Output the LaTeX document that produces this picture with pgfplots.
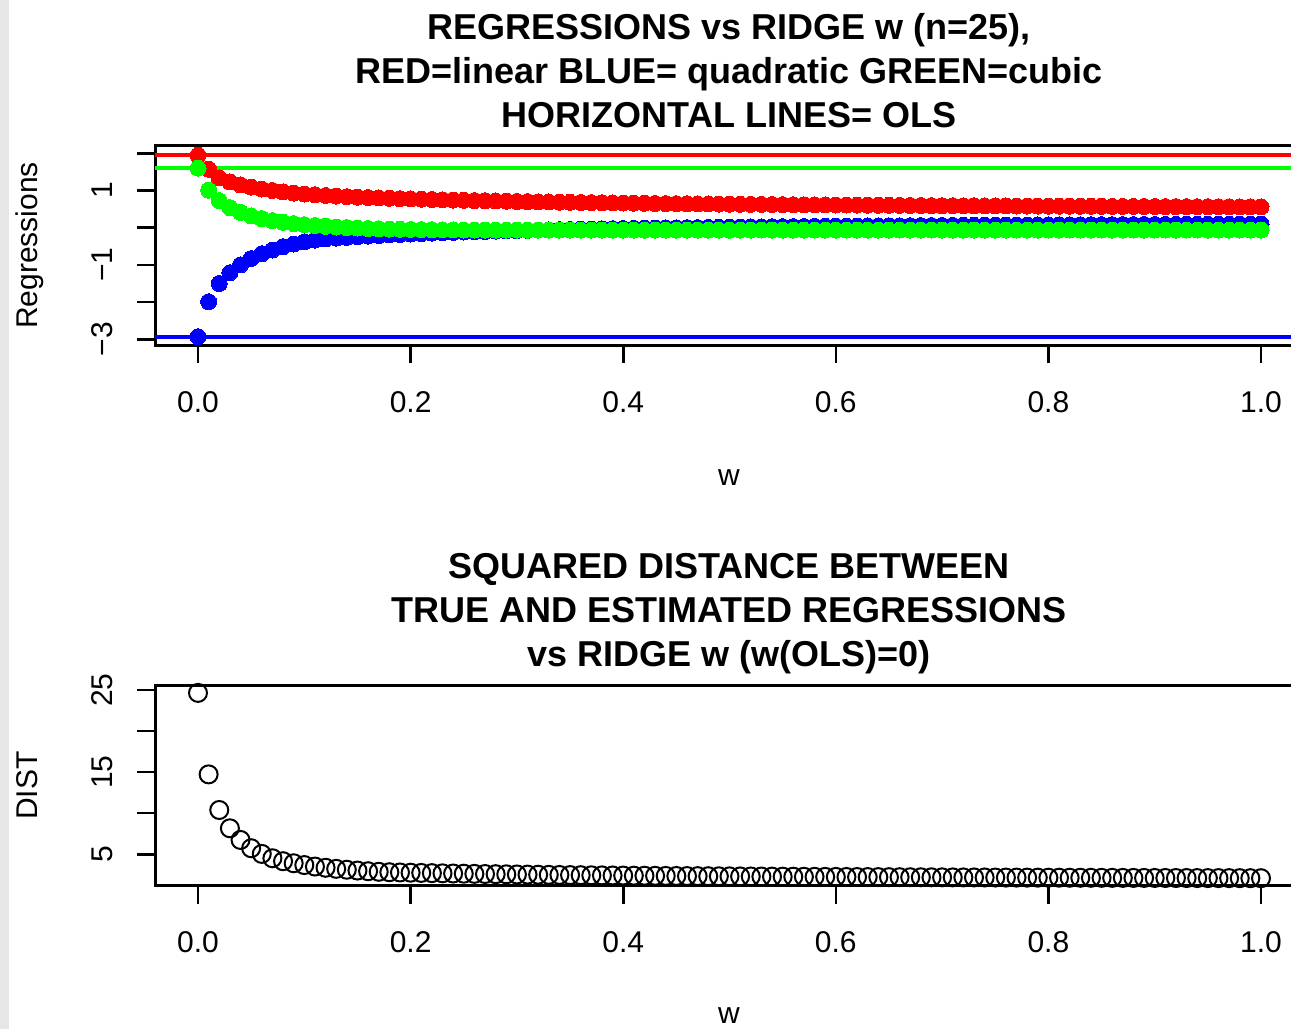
\documentclass[border=0pt]{standalone}
\usepackage{pgfplots}
\usepackage{pgfplotstable}
\pgfplotsset{compat=1.18}
\usepackage{fontspec}
\setmainfont{Liberation Sans}

\definecolor{Rred}{RGB}{255,0,0}
\definecolor{Rgreen}{RGB}{0,255,0}
\definecolor{Rblue}{RGB}{0,0,255}
\definecolor{stripgray}{RGB}{230,230,230}

% ridge path: w, linear (r), quadratic (b), cubic (g) coefficients, squared distance (d)
\pgfplotstableread{
w r b g d
0.00 1.950 -2.930 1.600 24.66
0.01 1.570 -1.990 1.010 14.73
0.02 1.340 -1.500 0.730 10.39
0.03 1.230 -1.210 0.540 8.16
0.04 1.150 -1.000 0.410 6.74
0.05 1.090 -0.830 0.315 5.73
0.06 1.040 -0.700 0.245 5.04
0.07 1.000 -0.600 0.190 4.51
0.08 0.960 -0.510 0.145 4.15
0.09 0.930 -0.440 0.110 3.90
0.10 0.905 -0.380 0.080 3.68
0.11 0.885 -0.335 0.057 3.50
0.12 0.866 -0.303 0.037 3.35
0.13 0.850 -0.281 0.018 3.22
0.14 0.835 -0.261 0.003 3.11
0.15 0.822 -0.243 -0.010 3.01
0.16 0.810 -0.226 -0.021 2.93
0.17 0.799 -0.210 -0.030 2.86
0.18 0.790 -0.196 -0.037 2.808
0.19 0.782 -0.182 -0.043 2.778
0.20 0.775 -0.170 -0.048 2.750
0.21 0.766 -0.158 -0.052 2.723
0.22 0.758 -0.147 -0.055 2.698
0.23 0.751 -0.136 -0.058 2.674
0.24 0.743 -0.127 -0.060 2.651
0.25 0.736 -0.117 -0.062 2.630
0.26 0.730 -0.109 -0.063 2.609
0.27 0.724 -0.100 -0.064 2.589
0.28 0.718 -0.092 -0.065 2.571
0.29 0.712 -0.085 -0.065 2.553
0.30 0.706 -0.078 -0.065 2.536
0.31 0.701 -0.071 -0.065 2.520
0.32 0.696 -0.065 -0.065 2.504
0.33 0.691 -0.059 -0.065 2.489
0.34 0.687 -0.053 -0.065 2.475
0.35 0.682 -0.047 -0.065 2.461
0.36 0.678 -0.042 -0.065 2.448
0.37 0.674 -0.037 -0.065 2.435
0.38 0.670 -0.032 -0.065 2.423
0.39 0.666 -0.027 -0.065 2.411
0.40 0.663 -0.023 -0.065 2.400
0.41 0.659 -0.019 -0.065 2.389
0.42 0.656 -0.015 -0.065 2.378
0.43 0.652 -0.011 -0.065 2.368
0.44 0.649 -0.007 -0.065 2.358
0.45 0.646 -0.003 -0.065 2.349
0.46 0.643 0.001 -0.065 2.340
0.47 0.640 0.004 -0.065 2.331
0.48 0.638 0.007 -0.065 2.322
0.49 0.635 0.011 -0.065 2.314
0.50 0.632 0.014 -0.065 2.306
0.51 0.630 0.017 -0.064 2.298
0.52 0.627 0.020 -0.064 2.290
0.53 0.625 0.022 -0.064 2.283
0.54 0.623 0.025 -0.064 2.275
0.55 0.620 0.028 -0.064 2.268
0.56 0.618 0.030 -0.064 2.262
0.57 0.616 0.033 -0.064 2.255
0.58 0.614 0.035 -0.064 2.249
0.59 0.612 0.038 -0.064 2.242
0.60 0.610 0.040 -0.064 2.236
0.61 0.608 0.042 -0.064 2.230
0.62 0.606 0.044 -0.064 2.225
0.63 0.604 0.046 -0.064 2.219
0.64 0.603 0.048 -0.064 2.214
0.65 0.601 0.050 -0.064 2.208
0.66 0.599 0.052 -0.064 2.203
0.67 0.598 0.054 -0.064 2.198
0.68 0.596 0.056 -0.064 2.193
0.69 0.594 0.058 -0.064 2.188
0.70 0.593 0.060 -0.064 2.184
0.71 0.591 0.061 -0.064 2.179
0.72 0.590 0.063 -0.064 2.174
0.73 0.589 0.064 -0.064 2.170
0.74 0.587 0.066 -0.064 2.166
0.75 0.586 0.068 -0.064 2.161
0.76 0.585 0.069 -0.064 2.157
0.77 0.583 0.071 -0.064 2.153
0.78 0.582 0.072 -0.064 2.149
0.79 0.581 0.073 -0.064 2.146
0.80 0.580 0.075 -0.064 2.142
0.81 0.578 0.076 -0.063 2.138
0.82 0.577 0.077 -0.063 2.134
0.83 0.576 0.079 -0.063 2.131
0.84 0.575 0.080 -0.063 2.127
0.85 0.574 0.081 -0.063 2.124
0.86 0.573 0.082 -0.063 2.121
0.87 0.572 0.084 -0.063 2.117
0.88 0.571 0.085 -0.063 2.114
0.89 0.570 0.086 -0.063 2.111
0.90 0.569 0.087 -0.063 2.108
0.91 0.568 0.088 -0.063 2.105
0.92 0.567 0.089 -0.063 2.102
0.93 0.566 0.090 -0.063 2.099
0.94 0.565 0.091 -0.063 2.096
0.95 0.564 0.092 -0.063 2.093
0.96 0.563 0.093 -0.063 2.091
0.97 0.562 0.094 -0.063 2.088
0.98 0.561 0.095 -0.063 2.085
0.99 0.561 0.096 -0.063 2.083
1.00 0.560 0.097 -0.063 2.080
}\ridgepath

\pgfplotsset{
  rpanel/.style={
    scale only axis,
    width=574.02pt, height=100pt,
    anchor=south west,
    xmin=-0.04, xmax=1.04,
    axis line style={line width=1.3pt},
    every tick/.style={line width=1.3pt, black},
    tick align=outside,
    major tick length=9pt,
    tick pos=left,
    xtick={0,0.2,0.4,0.6,0.8,1},
    xticklabels={0.0,0.2,0.4,0.6,0.8,1.0},
    tick label style={font=\fontsize{15}{18}\selectfont},
    xticklabel style={anchor=center, yshift=-19.25pt},
    yticklabel style={anchor=center, xshift=-17.5pt, rotate=90},
    clip=false,
  },
}

\begin{document}
\begin{tikzpicture}
\useasboundingbox (0,0) rectangle (645.5pt,514.5pt);
\clip (0,0) rectangle (645.5pt,514.5pt);
\fill[stripgray] (0,0) rectangle (4.5pt,514.5pt);

% titles
\begin{scope}[every node/.style={font=\fontsize{18}{21.6}\selectfont\bfseries, anchor=base, inner sep=0pt}]
\node at (364.5pt,494.5pt) {REGRESSIONS vs RIDGE w (n=25),};
\node at (364.5pt,472.5pt) {RED=linear BLUE= quadratic GREEN=cubic};
\node at (364.5pt,450.5pt) {HORIZONTAL LINES= OLS};
\node at (364.5pt,225pt) {SQUARED DISTANCE BETWEEN};
\node at (364.5pt,203pt) {TRUE AND ESTIMATED REGRESSIONS};
\node at (364.5pt,181pt) {vs RIDGE w (w(OLS)=0)};
\end{scope}

% axis titles
\begin{scope}[every node/.style={font=\fontsize{15}{18}\selectfont, inner sep=0pt}]
\node[anchor=base] at (364.5pt,271.6pt) {w};
\node[anchor=base] at (364.5pt,3pt) {w};
\node[anchor=base, rotate=90] at (18.75pt,391.75pt) {Regressions};
\node[anchor=base, rotate=90] at (18.75pt,121.75pt) {DIST};
\end{scope}

% upper panel: coefficients along the ridge path
\begin{axis}[rpanel,
  at={(77.74pt,341.75pt)},
  ymin=-3.167, ymax=2.21,
  ytick={-3,-2,-1,0,1,2},
  yticklabels={−3,,−1,,1,},
]
\addplot[Rred, line width=2pt] coordinates {(-0.04,1.950) (1.06,1.950)};
\addplot[Rgreen, line width=2pt] coordinates {(-0.04,1.600) (1.06,1.600)};
\addplot[Rblue, line width=2pt] coordinates {(-0.04,-2.930) (1.06,-2.930)};
\addplot[only marks, mark=*, mark size=4pt, draw=Rred, fill=Rred, mark options={line width=0pt}] table[x=w, y=r] {\ridgepath};
\addplot[only marks, mark=*, mark size=4pt, draw=Rblue, fill=Rblue, mark options={line width=0pt}] table[x=w, y=b] {\ridgepath};
\addplot[only marks, mark=*, mark size=4pt, draw=Rgreen, fill=Rgreen, mark options={line width=0pt}] table[x=w, y=g] {\ridgepath};
\end{axis}

% lower panel: squared distance
\begin{axis}[rpanel,
  at={(77.74pt,71.75pt)},
  ymin=1.19, ymax=25.56,
  ytick={5,10,15,20,25},
  yticklabels={5,,15,,25},
]
\addplot[only marks, mark=o, mark size=4.5pt, black, mark options={line width=1pt}] table[x=w, y=d] {\ridgepath};
\end{axis}
\end{tikzpicture}
\end{document}
